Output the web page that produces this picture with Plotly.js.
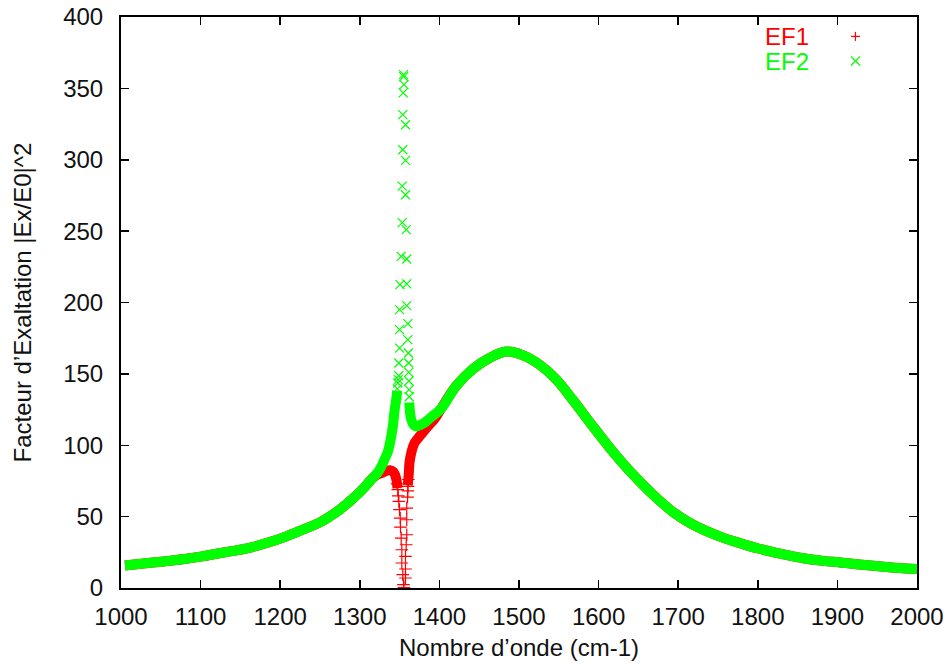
<!DOCTYPE html>
<html><head><meta charset="utf-8">
<script src="https://cdn.plot.ly/plotly-3.0.1.min.js"></script>
<style>html,body{margin:0;padding:0;background:#fff}</style>
</head><body><div id="chart" style="width:951px;height:667px"></div>
<script>
// ---- Data ----
// Common smooth parts (EF1 and EF2 coincide there)
const wnLeftTail  = [1005, 1040, 1060, 1080, 1100, 1120, 1143, 1165, 1186, 1207, 1228, 1250, 1262, 1275, 1291, 1305, 1316];
const valLeftTail = [15.8, 17.8, 19.0, 20.3, 22.0, 24.0, 26.2, 28.7, 32.0, 36.0, 40.8, 46.0, 50.0, 55.0, 62.5, 70.0, 77.0];
const wnRightTail  = [1402, 1421, 1442, 1463, 1484, 1505, 1526, 1547, 1568, 1589, 1610, 1630, 1651, 1672, 1693, 1714, 1735, 1756, 1777, 1798, 1819, 1840, 1861, 1882, 1903, 1924, 1945, 1965, 1986, 2000];
const valRightTail = [125.5, 141.5, 153.4, 161.1, 165.6, 163.0, 156.4, 146.0, 131.4, 116.0, 101.0, 87.6, 75.0, 63.5, 53.5, 45.8, 40.0, 35.3, 31.5, 28.0, 25.2, 22.7, 20.5, 19.0, 17.9, 16.7, 15.6, 14.6, 13.7, 13.3];

// EF1 near the resonance (dense part)
const wnEF1NearLeft  = [1322, 1327, 1333, 1338, 1342, 1344.5, 1346.3, 1347.3];
const ef1NearLeft    = [79.5, 80.5, 82.0, 82.5, 81.5, 79.0, 75.0, 70.0];
const wnEF1NearRight = [1360.3, 1361.6, 1362.4, 1364.6, 1368.7, 1375, 1385.4, 1394];
const ef1NearRight   = [72.0, 80.6, 87.6, 94.6, 101.6, 106.2, 113.2, 118.5];
// EF1 isolated points in the resonance
const wnEF1Res = [1346.8, 1347.7, 1348.3, 1349.0, 1349.9, 1350.8, 1351.1, 1352.0, 1352.8, 1352.8, 1354.0, 1354.9, 1355.5,
                  1357.4, 1357.4, 1357.4, 1358.3, 1359.0, 1359.0, 1359.0, 1360.0, 1360.3, 1360.5, 1361.0];
const ef1Res   = [73.0, 68.9, 64.5, 60.7, 54.9, 49.0, 42.7, 35.0, 26.8, 17.5, 9.3, 2.3, 0.3,
                  7.0, 13.3, 22.1, 30.3, 37.3, 47.8, 56.0, 63.7, 68.0, 71.2, 76.0];

// EF2 near the resonance (dense part)
const wnEF2NearLeft  = [1322, 1327, 1331, 1335, 1337.5, 1341.5, 1343.6, 1345.7, 1347.0];
const ef2NearLeft    = [80.5, 85.0, 90.0, 95.0, 100.5, 113.0, 124.0, 132.0, 138.0];
const wnEF2NearRight = [1362.2, 1363.2, 1364.6, 1368.0, 1371.0, 1376.0, 1381.3, 1390.0];
const ef2NearRight   = [130.0, 122.5, 118.0, 114.0, 113.2, 114.3, 115.8, 119.8];
// EF2 isolated points in the resonance
const wnEF2Res = [1346.6, 1347.2, 1347.7, 1348.3, 1349.0, 1349.0, 1349.9, 1349.9, 1349.9, 1350.5, 1352.0, 1353.3, 1353.3, 1354.0, 1354.0,
                  1354.5, 1354.9, 1355.2, 1355.5,
                  1357.4, 1357.4, 1357.4, 1358.3, 1359.0, 1359.0, 1359.0, 1360.3, 1360.3, 1361.0, 1361.3, 1361.5, 1361.7, 1361.9, 1362.1];
const ef2Res   = [135.0, 139.5, 143.6, 146.0, 148.7, 157.6, 168.0, 181.0, 195.0, 212.5, 232.3, 255.9, 281.5, 307.0, 331.6,
                  346.8, 359.6, 358.2, 352.6,
                  324.5, 299.6, 275.5, 251.0, 230.5, 213.0, 197.8, 185.2, 174.0, 164.6, 157.6, 151.0, 145.0, 139.0, 134.0];

const xTickVals = [1000, 1100, 1200, 1300, 1400, 1500, 1600, 1700, 1800, 1900, 2000];
const yTickVals = [0, 50, 100, 150, 200, 250, 300, 350, 400];
const seriesNames = ['EF1', 'EF2'];
const seriesColors = ['#ff0000', '#00ff00'];

// ---- Build traces ----
const ef1BandX = wnLeftTail.concat(wnEF1NearLeft, [null], wnEF1NearRight, wnRightTail);
const ef1BandY = valLeftTail.concat(ef1NearLeft, [null], ef1NearRight, valRightTail);
const ef2BandX = wnLeftTail.concat(wnEF2NearLeft, [null], wnEF2NearRight, wnRightTail);
const ef2BandY = valLeftTail.concat(ef2NearLeft, [null], ef2NearRight, valRightTail);

const bandW = 10;
const traces = [
  {x: ef1BandX, y: ef1BandY, mode: 'lines', line: {color: seriesColors[0], width: bandW, shape: 'spline', smoothing: 1}, connectgaps: false, showlegend: false, hoverinfo: 'skip'},
  {x: wnEF1Res, y: ef1Res, mode: 'markers', marker: {symbol: 'cross-thin-open', size: 9, color: seriesColors[0], line: {color: seriesColors[0], width: 1.2}}, name: seriesNames[0], showlegend: false},
  {x: ef2BandX, y: ef2BandY, mode: 'lines', line: {color: seriesColors[1], width: bandW, shape: 'spline', smoothing: 1}, connectgaps: false, showlegend: false, hoverinfo: 'skip'},
  {x: wnEF2Res, y: ef2Res, mode: 'markers', marker: {symbol: 'x-thin-open', size: 9, color: seriesColors[1], line: {color: seriesColors[1], width: 1.2}}, name: seriesNames[1], showlegend: false}
];

const FONT = 'Liberation Sans, Arial, Helvetica, sans-serif';
const fs = 24;

// legend (gnuplot style: coloured text, sample to the right)
const legX = 0.806, legSymX = 0.9227;
const legY = [0.966, 0.923];
const annotations = seriesNames.map((n, i) => ({
  xref: 'paper', yref: 'paper', x: legX, y: legY[i], xanchor: 'left', yanchor: 'middle',
  height: 22, valign: 'middle',
  text: n, showarrow: false, font: {family: FONT, size: fs, color: seriesColors[i]}
}));
const h = 4.5;
const shapes = [
  {type: 'line', xref: 'paper', yref: 'paper', xsizemode: 'pixel', ysizemode: 'pixel', xanchor: legSymX, yanchor: legY[0], x0: -h, x1: h, y0: 0, y1: 0, line: {color: seriesColors[0], width: 1.2}},
  {type: 'line', xref: 'paper', yref: 'paper', xsizemode: 'pixel', ysizemode: 'pixel', xanchor: legSymX, yanchor: legY[0], x0: 0, x1: 0, y0: -h, y1: h, line: {color: seriesColors[0], width: 1.2}},
  {type: 'line', xref: 'paper', yref: 'paper', xsizemode: 'pixel', ysizemode: 'pixel', xanchor: legSymX, yanchor: legY[1], x0: -h, x1: h, y0: -h, y1: h, line: {color: seriesColors[1], width: 1.2}},
  {type: 'line', xref: 'paper', yref: 'paper', xsizemode: 'pixel', ysizemode: 'pixel', xanchor: legSymX, yanchor: legY[1], x0: -h, x1: h, y0: h, y1: -h, line: {color: seriesColors[1], width: 1.2}}
];

const axisCommon = {
  showline: true, linecolor: '#000', linewidth: 2, mirror: 'ticks',
  ticks: 'inside', ticklen: 8, tickwidth: 1.5, tickcolor: '#000',
  showgrid: false, zeroline: false,
  tickfont: {family: FONT, size: fs, color: '#111'}
};

const layout = {
  width: 951, height: 667,
  margin: {l: 121, r: 34, t: 17, b: 79, pad: 0},
  paper_bgcolor: '#fff', plot_bgcolor: '#fff',
  font: {family: FONT, size: fs, color: '#111'},
  showlegend: false,
  xaxis: Object.assign({}, axisCommon, {
    range: [1000, 2000], tickvals: xTickVals, ticktext: xTickVals.map(String),
    ticklabelstandoff: 6,
    title: {text: 'Nombre d’onde (cm-1)', font: {family: FONT, size: fs, color: '#111'}, standoff: 10}
  }),
  yaxis: Object.assign({}, axisCommon, {
    range: [0, 400], tickvals: yTickVals, ticktext: yTickVals.map(String),
    ticklabelstandoff: 11,
    title: {text: 'Facteur d’Exaltation |Ex/E0|^2', font: {family: FONT, size: fs, color: '#111'}, standoff: 25}
  }),
  annotations: annotations,
  shapes: shapes
};

Plotly.newPlot('chart', traces, layout, {staticPlot: true, displayModeBar: false});
</script></body></html>
